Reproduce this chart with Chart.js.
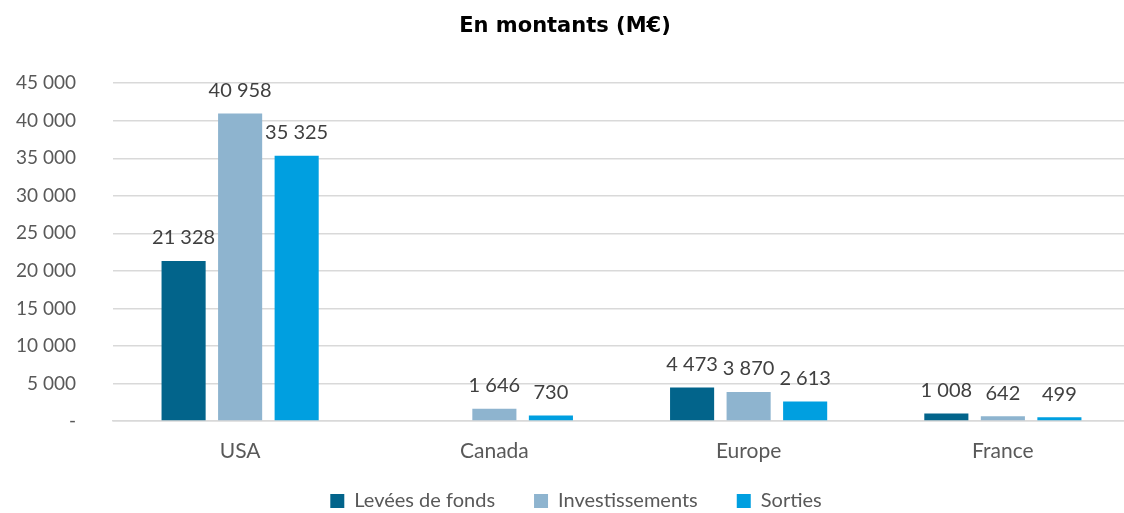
<!DOCTYPE html>
<html lang="fr">
<head>
<meta charset="utf-8">
<title>En montants (M€)</title>
<script src="https://cdn.jsdelivr.net/npm/chart.js@4"></script>
<style>
    html, body { margin: 0; padding: 0; background: #fff; overflow: hidden; }
    #cadre { width: 1124px; height: 513px; overflow: hidden; }
</style>
</head>
<body>
<div id="cadre">
    <canvas id="montantsChart" width="1132" height="535"></canvas>
</div>
<script>
const zones = ["USA", "Canada", "Europe", "France"];
const levees = [21328, null, 4473, 1008];
const investissements = [40958, 1646, 3870, 642];
const sorties = [35325, 730, 2613, 499];
const graduations = [0, 5000, 10000, 15000, 20000, 25000, 30000, 35000, 40000, 45000];

function formatMontant(valeur) {
    if (valeur === 0) return '-';
    return valeur.toString().replace(/\B(?=(\d{3})+(?!\d))/g, ' ');
}

// étiquettes au-dessus des barres
const etiquettesPlugin = {
    id: 'etiquettes',
    afterDatasetsDraw(chart) {
        const ctx = chart.ctx;
        ctx.save();
        ctx.font = '20px Lato, "Open Sans", sans-serif';
        ctx.fillStyle = '#404040';
        ctx.textAlign = 'center';
        ctx.textBaseline = 'bottom';
        chart.data.datasets.forEach((ds, i) => {
            const meta = chart.getDatasetMeta(i);
            meta.data.forEach((bar, j) => {
                const v = ds.data[j];
                if (v === null || v === undefined) return;
                ctx.fillText(formatMontant(v), bar.x, bar.y - 13);
            });
        });
        ctx.restore();
    }
};

// on remonte la légende et on la décale un peu à droite, comme dans l'original
const placementLegende = {
    id: 'placementLegende',
    afterLayout(chart) {
        const lg = chart.legend;
        if (!lg) return;
        const h = lg.bottom - lg.top;
        lg.left += 11;
        lg.right += 11;
        lg.top = 452;
        lg.bottom = 452 + h;
    }
};

const ctx = document.getElementById('montantsChart').getContext('2d');
const montantsChart = new Chart(ctx, {
    type: 'bar',
    data: {
        labels: zones,
        datasets: [
            { label: 'Levées de fonds', data: levees, backgroundColor: '#02648B' },
            { label: 'Investissements', data: investissements, backgroundColor: '#8EB4CF' },
            { label: 'Sorties', data: sorties, backgroundColor: '#009FE0' }
        ]
    },
    options: {
        responsive: false,
        animation: false,
        categoryPercentage: 0.667,
        barPercentage: 0.78,
        layout: { padding: { top: 4, left: 0, right: 2, bottom: 0 } },
        scales: {
            x: {
                grid: { display: false, drawTicks: false },
                border: { color: '#D9D9D9', width: 1.5 },
                afterFit(scale) {
                    scale.height = 45;
                },
                ticks: {
                    color: '#595959',
                    font: { family: 'Lato, "Open Sans", sans-serif', size: 21 },
                    padding: 18
                }
            },
            y: {
                min: 0,
                max: 45000,
                afterBuildTicks(scale) {
                    scale.ticks = graduations.map(v => ({ value: v }));
                },
                afterFit(scale) {
                    scale.width = 113;
                },
                grid: { color: '#D9D9D9', lineWidth: 1.5, drawTicks: false },
                border: { display: false },
                ticks: {
                    color: '#595959',
                    font: { family: 'Lato, "Open Sans", sans-serif', size: 19 },
                    padding: 37,
                    callback: v => formatMontant(v)
                }
            }
        },
        plugins: {
            title: {
                display: true,
                text: 'En montants (M€)',
                color: '#000',
                font: { family: '"DejaVu Sans", sans-serif', size: 21, weight: 'bold' },
                padding: { top: 10, bottom: 44 }
            },
            legend: {
                position: 'bottom',
                labels: {
                    color: '#595959',
                    font: { family: 'Lato, "Open Sans", sans-serif', size: 20 },
                    boxWidth: 14,
                    boxHeight: 14,
                    padding: 39
                }
            },
            tooltip: { enabled: false }
        }
    },
    plugins: [etiquettesPlugin, placementLegende]
});
</script>
</body>
</html>
